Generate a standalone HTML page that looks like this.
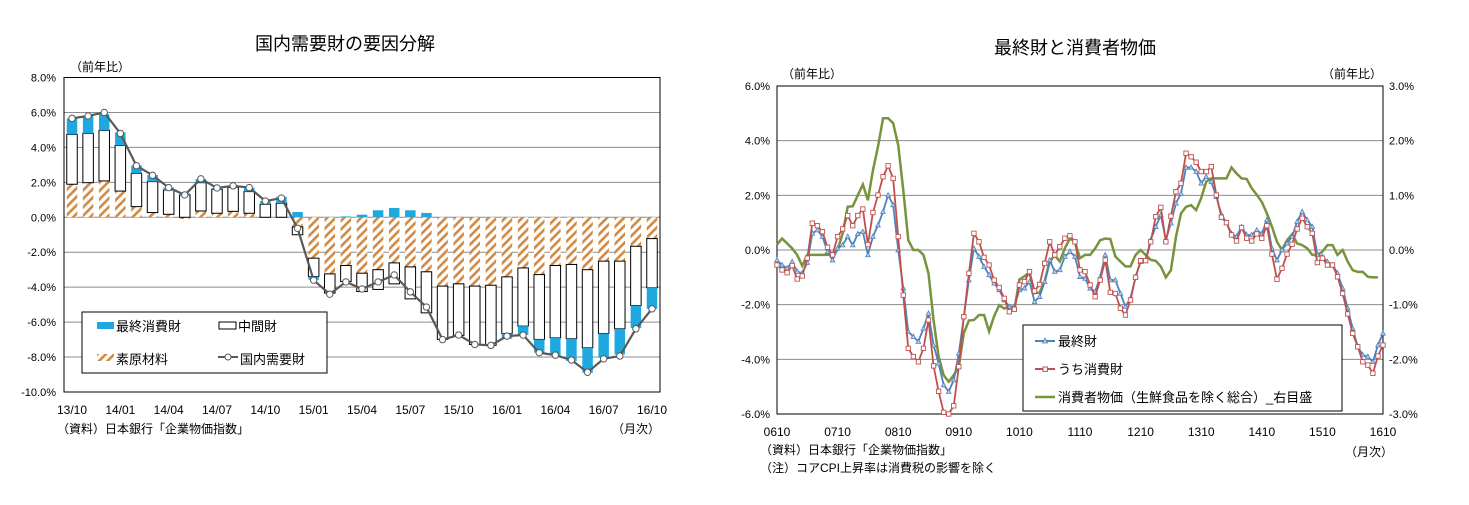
<!DOCTYPE html>
<html><head><meta charset="utf-8">
<style>
body{margin:0;background:#fff;}
svg text{font-family:"Liberation Sans","Noto Sans CJK JP",sans-serif;}
</style></head>
<body>
<svg id="s" width="1469" height="500" xmlns="http://www.w3.org/2000/svg">
<defs>
<pattern id="hatch" patternUnits="userSpaceOnUse" width="6" height="6" patternTransform="rotate(45)">
<rect width="6" height="6" fill="#fff"/><rect width="2.6" height="6" fill="#d08a44"/>
</pattern>
</defs>
<g id="left">
<text x="345" y="50" font-size="18" text-anchor="middle">国内需要財の要因分解</text>
<text x="70" y="71" font-size="12">（前年比）</text>
<text x="57" y="433" font-size="12">（資料）日本銀行「企業物価指数」</text>
<text x="612" y="433" font-size="12">（月次）</text>
</g>
<g id="right">
<text x="1075" y="54" font-size="18" text-anchor="middle">最終財と消費者物価</text>
<text x="782" y="78" font-size="12">（前年比）</text>
<text x="1322" y="78" font-size="12">（前年比）</text>
<text x="760" y="454" font-size="12">（資料）日本銀行「企業物価指数」</text>
<text x="760" y="472" font-size="12">（注）コアCPI上昇率は消費税の影響を除く</text>
<text x="1345" y="456" font-size="12">（月次）</text>
</g>
</svg>
<script>
// ---- Left chart data ----
const leftMonths = 37;
const leftXLabels = ["13/10","14/01","14/04","14/07","14/10","15/01","15/04","15/07","15/10","16/01","16/04","16/07","16/10"];
const leftYTicks = [8,6,4,2,0,-2,-4,-6,-8,-10];
const rawMat = [1.89,1.98,2.08,1.5,0.61,0.27,0.17,-0.1,0.36,0.23,0.34,0.23,0,0,-0.55,-2.34,-3.24,-2.76,-3.2,-3.0,-2.61,-2.84,-3.12,-3.94,-3.81,-3.94,-3.89,-3.41,-2.9,-3.28,-2.76,-2.7,-3.0,-2.51,-2.51,-1.66,-1.22];
const interGoods = [2.85,2.82,2.89,2.61,1.9,1.77,1.39,1.28,1.62,1.37,1.37,1.24,0.74,0.8,-0.45,-1.05,-1.1,-0.92,-1.05,-1.13,-1.2,-1.83,-2.35,-3.05,-2.95,-3.34,-3.44,-3.24,-3.33,-3.71,-4.14,-4.25,-4.47,-4.14,-3.87,-3.39,-2.82];
const finalCons = [0.92,1.0,0.93,0.75,0.46,0.38,0.14,0.1,0.21,0.08,0.08,0.23,0.19,0.38,0.3,-0.19,0,0.05,0.15,0.4,0.53,0.4,0.25,0,0,0,0,-0.3,-0.5,-0.76,-1.0,-1.28,-1.43,-1.39,-1.47,-1.28,-1.2];
const domTotal = [5.66,5.8,6.0,4.8,2.95,2.4,1.7,1.28,2.2,1.68,1.8,1.7,0.93,1.1,-0.63,-3.6,-4.4,-3.7,-4.1,-3.7,-3.3,-4.27,-5.14,-7.0,-6.74,-7.28,-7.33,-6.8,-6.74,-7.75,-7.89,-8.17,-8.87,-8.1,-7.94,-6.38,-5.24];

// ---- Right chart data ----
const rXLabels = ["0610","0710","0810","0910","1010","1110","1210","1310","1410","1510","1610"];
const rLeftTicks = [6,4,2,0,-2,-4,-6];
const rRightTicks = [3,2,1,0,-1,-2,-3];
const finalGoods = [-0.37,-0.55,-0.67,-0.43,-0.79,-0.85,-0.46,0.61,0.73,0.49,-0.06,-0.37,0.06,0.18,0.49,0.18,0.59,0.67,-0.18,0.49,0.91,1.4,2.01,1.65,0,-1.4,-2.99,-3.17,-3.35,-2.87,-2.32,
-3.48,-4.15,-4.94,-5.18,-4.76,-3.78,-2.44,-1.1,0.06,-0.24,-0.61,-0.91,-1.22,-1.46,-1.83,-2.07,-2.07,-1.46,-1.4,-1.16,-1.89,-1.71,-1.16,-0.37,-0.79,-0.73,-0.24,-0.06,-0.24,-0.98,
-1.04,-1.40,-1.52,-0.98,-0.18,-1.10,-1.10,-1.59,-2.07,-1.77,-0.98,-0.43,-0.37,0.37,0.85,1.28,0.37,0.98,1.71,2.07,3.02,3.02,2.87,2.44,2.68,2.5,1.95,1.3,1.0,0.6,
0.49,0.85,0.55,0.55,0.73,0.59,1.10,0.06,-0.37,0,0.24,0.49,1.04,1.40,1.10,0.85,-0.18,-0.24,-0.43,-0.55,-0.85,-1.40,-2.13,-2.87,-3.54,-3.84,-3.90,-4.09,-3.48,-3.05];
const consGoods = [-0.55,-0.73,-0.83,-0.57,-1.06,-0.95,-0.3,0.98,0.89,0.67,0.1,-0.18,0.49,0.77,1.26,0.89,1.26,1.5,0.2,1.37,2.01,2.68,3.08,2.62,0.49,-1.65,-3.6,-3.9,-4.09,-3.6,-2.56,
-4.24,-5.17,-5.94,-6.0,-5.7,-4.27,-2.44,-0.85,0.61,0.30,-0.27,-0.55,-1.1,-1.37,-1.77,-2.26,-2.17,-1.28,-1.16,-0.79,-1.5,-1.26,-0.49,0.30,-0.18,0.12,0.43,0.52,0.30,-0.73,
-0.79,-1.28,-1.71,-1.10,-0.37,-1.55,-1.59,-2.13,-2.38,-1.83,-1.0,-0.39,-0.39,0.30,1.22,1.56,0.30,1.24,2.13,2.44,3.54,3.41,3.21,2.87,2.87,3.05,2.01,1.2,1.0,0.55,
0.33,0.82,0.43,0.33,0.59,0.43,0.89,-0.15,-1.07,-0.67,-0.15,0.21,0.77,1.16,0.85,0.61,-0.46,-0.30,-0.55,-0.55,-0.98,-1.59,-2.34,-3.05,-3.54,-4.09,-4.21,-4.51,-3.88,-3.48];
const coreCpi = [0.10,0.21,0.12,0.03,-0.09,-0.29,-0.09,-0.09,-0.09,-0.09,-0.09,-0.09,0.0,0.3,0.79,0.80,1.0,1.2,0.91,1.46,1.89,2.41,2.41,2.32,1.92,1.1,0.18,0,0,-0.09,
-0.43,-1.28,-1.95,-2.29,-2.41,-2.29,-2.13,-1.52,-1.29,-1.28,-1.19,-1.19,-1.49,-1.21,-1.01,-1.07,-1.04,-1.10,-0.54,-0.48,-0.41,-0.79,-0.78,-0.58,-0.21,-0.10,-0.21,0.03,0.21,0.15,
-0.15,-0.09,-0.09,0.03,0.18,0.21,0.2,-0.12,-0.21,-0.30,-0.30,-0.09,0,-0.09,-0.18,-0.2,-0.3,-0.5,-0.37,0.24,0.67,0.79,0.82,0.73,0.95,1.25,1.31,1.31,1.31,1.31,
1.51,1.40,1.31,1.30,1.13,1.01,0.88,0.67,0.43,0.15,0,0.18,0.29,0.12,0.09,0.03,-0.09,-0.09,-0.03,0.09,0.09,-0.09,0,-0.21,-0.37,-0.40,-0.40,-0.49,-0.50,-0.50];

const NS="http://www.w3.org/2000/svg";
function mk(parent,tag,attrs){const e=document.createElementNS(NS,tag);for(const k in attrs)e.setAttribute(k,attrs[k]);parent.appendChild(e);return e;}

// ---- Left chart ----
const L=document.getElementById('left');
const lx0=64,lx1=660,ly0=77.5,ly1=392;
const ly=v=>ly0+(8-v)*(ly1-ly0)/18;
const lstep=(lx1-lx0-16)/(leftMonths-1);
const lx=i=>lx0+8+i*lstep;
leftYTicks.forEach(t=>{
  if(t!==8&&t!==-10){const g=mk(L,'line',{x1:lx0,x2:lx1,y1:ly(t),y2:ly(t),stroke:'#8c8c8c','stroke-width':1});
  
  }
  const tx=mk(L,'text',{x:lx0-8,y:ly(t)+4,'font-size':11,'text-anchor':'end'});tx.textContent=t.toFixed(1)+'%';
  
  
});
const lframe=mk(L,'rect',{x:lx0,y:ly0,width:lx1-lx0,height:ly1-ly0,fill:'none',stroke:'#000','stroke-width':1});


leftXLabels.forEach((lab,k)=>{
  const tx=mk(L,'text',{x:lx(k*3),y:414,'font-size':12,'text-anchor':'middle'});tx.textContent=lab;
  
  
});
const bw=10.5;
for(let i=0;i<leftMonths;i++){
  let pos=0,neg=0;
  const parts=[[rawMat[i],'url(#hatch)','#c9c9c9','bar-raw-materials'],[interGoods[i],'#fff','#000','bar-intermediate-goods'],[finalCons[i],'#1fa8df','#2a6f9a','bar-final-consumer-goods']];
  parts.forEach(p=>{
    const v=p[0];if(v===0)return;
    let a,b;
    if(v>0){a=pos;b=pos+v;pos=b;}else{a=neg;b=neg+v;neg=b;}
    const y1=ly(Math.max(a,b)),y2=ly(Math.min(a,b));
    const r=mk(L,'rect',{x:lx(i)-bw/2,y:y1,width:bw,height:y2-y1,fill:p[1],stroke:p[1]==='#fff'?'#000':'none','stroke-width':1});
    
    
  });
}
const lp=domTotal.map((v,i)=>lx(i)+','+ly(v)).join(' ');
const ll=mk(L,'polyline',{points:lp,fill:'none',stroke:'#595959','stroke-width':2.2});


domTotal.forEach((v,i)=>{
  const c=mk(L,'circle',{cx:lx(i),cy:ly(v),r:3.2,fill:'#fff',stroke:'#595959','stroke-width':1});
  
  
});
// legend
const lg=mk(L,'g',{});


mk(lg,'rect',{x:82,y:312,width:245,height:61,fill:'#fff',stroke:'#000','stroke-width':1});
mk(lg,'rect',{x:97,y:322,width:17,height:7,fill:'#1fa8df'});
mk(lg,'rect',{x:219,y:322,width:17,height:7,fill:'#fff',stroke:'#000'});
mk(lg,'rect',{x:97,y:354,width:17,height:7,fill:'url(#hatch)'});
mk(lg,'line',{x1:218,x2:238,y1:357,y2:357,stroke:'#595959','stroke-width':2});
mk(lg,'circle',{cx:228,cy:357,r:3,fill:'#fff',stroke:'#595959'});
[['最終消費財',116,331],['中間財',238,331],['素原材料',116,364],['国内需要財',240,364]].forEach(t=>{
  const tx=mk(lg,'text',{x:t[1],y:t[2],'font-size':13});tx.textContent=t[0];
  
  
});

// ---- Right chart ----
const R=document.getElementById('right');
const rx0=777,rx1=1383,ry0=86,ry1=414;
const ryL=v=>ry0+(6-v)*(ry1-ry0)/12;
const ryR=v=>ry0+(3-v)*(ry1-ry0)/6;
const rx=i=>rx0+i*(rx1-rx0)/120;
rLeftTicks.forEach((t,k)=>{
  if(t!==6&&t!==-6){const g=mk(R,'line',{x1:rx0,x2:rx1,y1:ryL(t),y2:ryL(t),stroke:'#8c8c8c','stroke-width':1});
  
  }
  const tx=mk(R,'text',{x:rx0-7,y:ryL(t)+4,'font-size':11,'text-anchor':'end'});tx.textContent=t.toFixed(1)+'%';
  
  
});
rRightTicks.forEach(t=>{
  const tx=mk(R,'text',{x:rx1+6,y:ryR(t)+4,'font-size':11});tx.textContent=t.toFixed(1)+'%';
  
  
});
const rframe=mk(R,'rect',{x:rx0,y:ry0,width:rx1-rx0,height:ry1-ry0,fill:'none',stroke:'#000','stroke-width':1});


rXLabels.forEach((lab,k)=>{
  const tx=mk(R,'text',{x:rx(k*12),y:436,'font-size':12,'text-anchor':'middle'});tx.textContent=lab;
  
  
});
const cpl=mk(R,'polyline',{points:coreCpi.map((v,i)=>rx(i)+','+ryR(v)).join(' '),fill:'none',stroke:'#77933c','stroke-width':2.5});


const fl=mk(R,'polyline',{points:finalGoods.map((v,i)=>rx(i)+','+ryL(v)).join(' '),fill:'none',stroke:'#4f81bd','stroke-width':1.8});


finalGoods.forEach((v,i)=>{
  const x=rx(i),y=ryL(v);
  const p=mk(R,'polygon',{points:`${x},${y-2.5} ${x-2.3},${y+1.8} ${x+2.3},${y+1.8}`,fill:'#b8cce4',stroke:'#4f81bd','stroke-width':0.8});
  
  
});
const cl=mk(R,'polyline',{points:consGoods.map((v,i)=>rx(i)+','+ryL(v)).join(' '),fill:'none',stroke:'#c0504d','stroke-width':1.8});


consGoods.forEach((v,i)=>{
  const s=mk(R,'rect',{x:rx(i)-2.2,y:ryL(v)-2.2,width:4.4,height:4.4,fill:'#fff',stroke:'#c0504d','stroke-width':0.9});
  
  
});
const rg=mk(R,'g',{});


mk(rg,'rect',{x:1023,y:325,width:319,height:86,fill:'#fff',stroke:'#000','stroke-width':1});
mk(rg,'line',{x1:1035,x2:1055,y1:341,y2:341,stroke:'#4f81bd','stroke-width':2});
mk(rg,'polygon',{points:'1045,338 1042.5,343 1047.5,343',fill:'#b8cce4',stroke:'#4f81bd','stroke-width':0.8});
mk(rg,'line',{x1:1035,x2:1055,y1:369,y2:369,stroke:'#c0504d','stroke-width':2});
mk(rg,'rect',{x:1043,y:367,width:4.4,height:4.4,fill:'#fff',stroke:'#c0504d'});
mk(rg,'line',{x1:1035,x2:1055,y1:397,y2:397,stroke:'#77933c','stroke-width':2.5});
[['最終財',341],['うち消費財',369],['消費者物価（生鮮食品を除く総合）_右目盛',397]].forEach(t=>{
  const tx=mk(rg,'text',{x:1058,y:t[1]+5,'font-size':13});tx.textContent=t[0];
  
  
});
</script>
</body></html>
